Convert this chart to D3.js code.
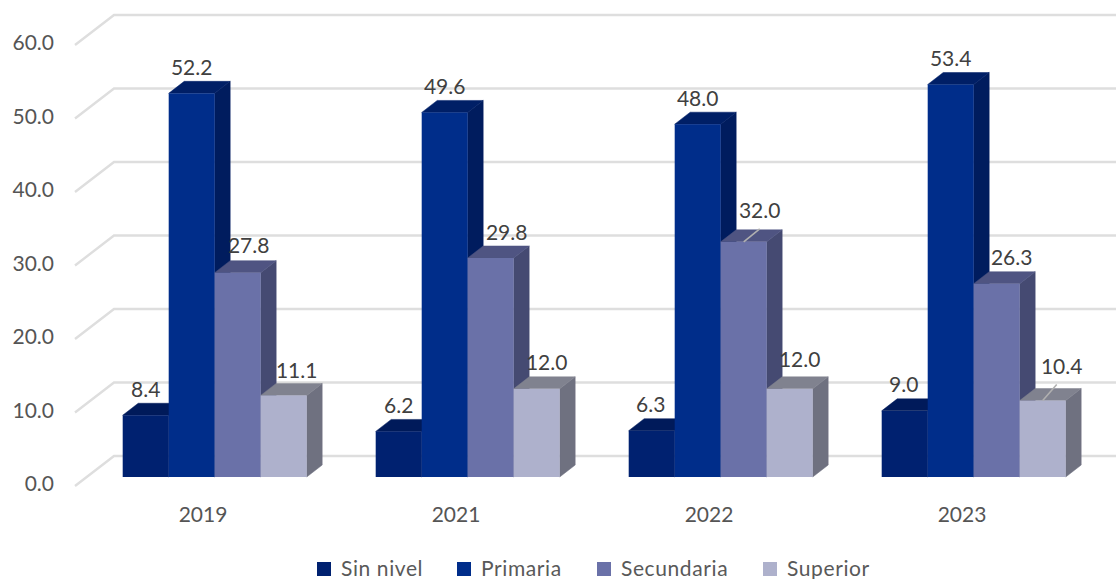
<!DOCTYPE html>
<html>
<head>
<meta charset="utf-8">
<script src="https://cdn.jsdelivr.net/npm/d3@7"></script>
<style>
  html, body { margin: 0; padding: 0; background: #fff; }
  svg { display: block; }
  text { font-family: Lato, "Open Sans", sans-serif; }
</style>
</head>
<body>
<svg width="1116" height="579"></svg>
<script>
const years = ["2019", "2021", "2022", "2023"];
const series = ["Sin nivel", "Primaria", "Secundaria", "Superior"];
const sinNivel = [8.4, 6.2, 6.3, 9.0];
const primaria = [52.2, 49.6, 48.0, 53.4];
const secundaria = [27.8, 29.8, 32.0, 26.3];
const superior = [11.1, 12.0, 12.0, 10.4];
const yTicks = [0, 10, 20, 30, 40, 50, 60];

const values = [sinNivel, primaria, secundaria, superior];

// colours per series: front, top, side
const front = ["#002170", "#002d8a", "#6a71a8", "#aeb1cc"];
const top_ = ["#001a5a", "#001f66", "#4f5482", "#80828f"];
const side = ["#00185a", "#001c5e", "#454a72", "#6f7180"];

// label nudges off the bar centre, [dx, dy], same order as the values
const nudge = [
  [[0, -26], [0, -26], [-1, -26], [-1, -26]],
  [[0, -26], [0, -26], [0, -26], [0, -26]],
  [[11, -27], [16, -25], [16, -31], [15, -26]],
  [[13, -25], [10, -26], [10, -29], [19, -34]]
];

const svg = d3.select("svg");

const y = d3.scaleLinear().domain([0, 60]).range([477, 36]);
const xYear = d3.scaleBand().domain(years).range([88.2, 1100.2]);
const xSeries = d3.scaleBand().domain(series).range([0, 184]);
const barX = (yi, si) => xYear(years[yi]) + (xYear.bandwidth() - 184) / 2 + xSeries(series[si]);

const depthX = 15.5;
const depthY = -12;
const w = xSeries.bandwidth();

// gridlines: floor diagonal plus back wall
const grid = svg.append("g")
  .attr("fill", "none")
  .attr("stroke", "#dedede")
  .attr("stroke-width", 2.4);

grid.selectAll("path").data(yTicks).enter().append("path")
  .attr("d", d => `M75,${y(d) + 9}L114,${y(d) - 21}H1116`);

svg.append("g").selectAll("text").data(yTicks).enter().append("text")
  .attr("x", 54)
  .attr("y", d => y(d) + 7)
  .attr("dy", "0.35em")
  .attr("text-anchor", "end")
  .attr("font-size", 21)
  .attr("fill", "#555")
  .text(d => d.toFixed(1));

// bars, drawn left to right so the next front hides the previous side
const bars = svg.append("g");
years.forEach((yr, yi) => {
  series.forEach((s, si) => {
    const v = values[si][yi];
    const x0 = barX(yi, si);
    const yTop = y(v);
    const yBase = y(0);
    bars.append("path")
      .attr("fill", side[si])
      .attr("stroke", side[si])
      .attr("stroke-width", 0.5)
      .attr("d", `M${x0 + w},${yTop}l${depthX},${depthY}V${yBase + depthY}l${-depthX},${-depthY}Z`);
    bars.append("path")
      .attr("fill", top_[si])
      .attr("stroke", top_[si])
      .attr("stroke-width", 0.5)
      .attr("d", `M${x0},${yTop}l${depthX},${depthY}h${w}l${-depthX},${-depthY}Z`);
    bars.append("rect")
      .attr("x", x0)
      .attr("y", yTop)
      .attr("width", w)
      .attr("height", yBase - yTop)
      .attr("fill", front[si]);
  });
});

// leader lines for the two labels pushed away from their bars
const leaders = [{si: 2, yi: 2, dx: 16, dy: -13}, {si: 3, yi: 3, dx: 14, dy: -16}];
svg.append("g").selectAll("line").data(leaders).enter().append("line")
  .attr("x1", d => barX(d.yi, d.si) + w / 2)
  .attr("y1", d => y(values[d.si][d.yi]))
  .attr("x2", d => barX(d.yi, d.si) + w / 2 + d.dx)
  .attr("y2", d => y(values[d.si][d.yi]) + d.dy)
  .attr("stroke", "#b0b0b0")
  .attr("stroke-width", 1.6);

// value labels
const labels = svg.append("g");
series.forEach((s, si) => {
  years.forEach((yr, yi) => {
    const v = values[si][yi];
    labels.append("text")
      .attr("x", barX(yi, si) + w / 2 + nudge[si][yi][0])
      .attr("y", y(v) + nudge[si][yi][1])
      .attr("dy", "0.35em")
      .attr("text-anchor", "middle")
      .attr("font-size", 21)
      .attr("fill", "#404040")
      .text(v.toFixed(1));
  });
});

// category labels
svg.append("g").selectAll("text").data(years).enter().append("text")
  .attr("x", d => xYear(d) + xYear.bandwidth() / 2 - 11.7)
  .attr("y", 515)
  .attr("dy", "0.35em")
  .attr("text-anchor", "middle")
  .attr("font-size", 21)
  .attr("fill", "#555")
  .text(d => d);

// legend
const legendX = [317, 457, 597, 763];
const legend = svg.append("g").selectAll("g").data(series).enter().append("g")
  .attr("transform", (d, i) => `translate(${legendX[i]},562)`);
legend.append("rect")
  .attr("width", 14)
  .attr("height", 14)
  .attr("fill", (d, i) => front[i]);
legend.append("text")
  .attr("x", 24)
  .attr("y", 7)
  .attr("dy", "0.35em")
  .attr("font-size", 21)
  .attr("letter-spacing", 0.6)
  .attr("fill", "#595959")
  .text(d => d);
</script>
</body>
</html>
